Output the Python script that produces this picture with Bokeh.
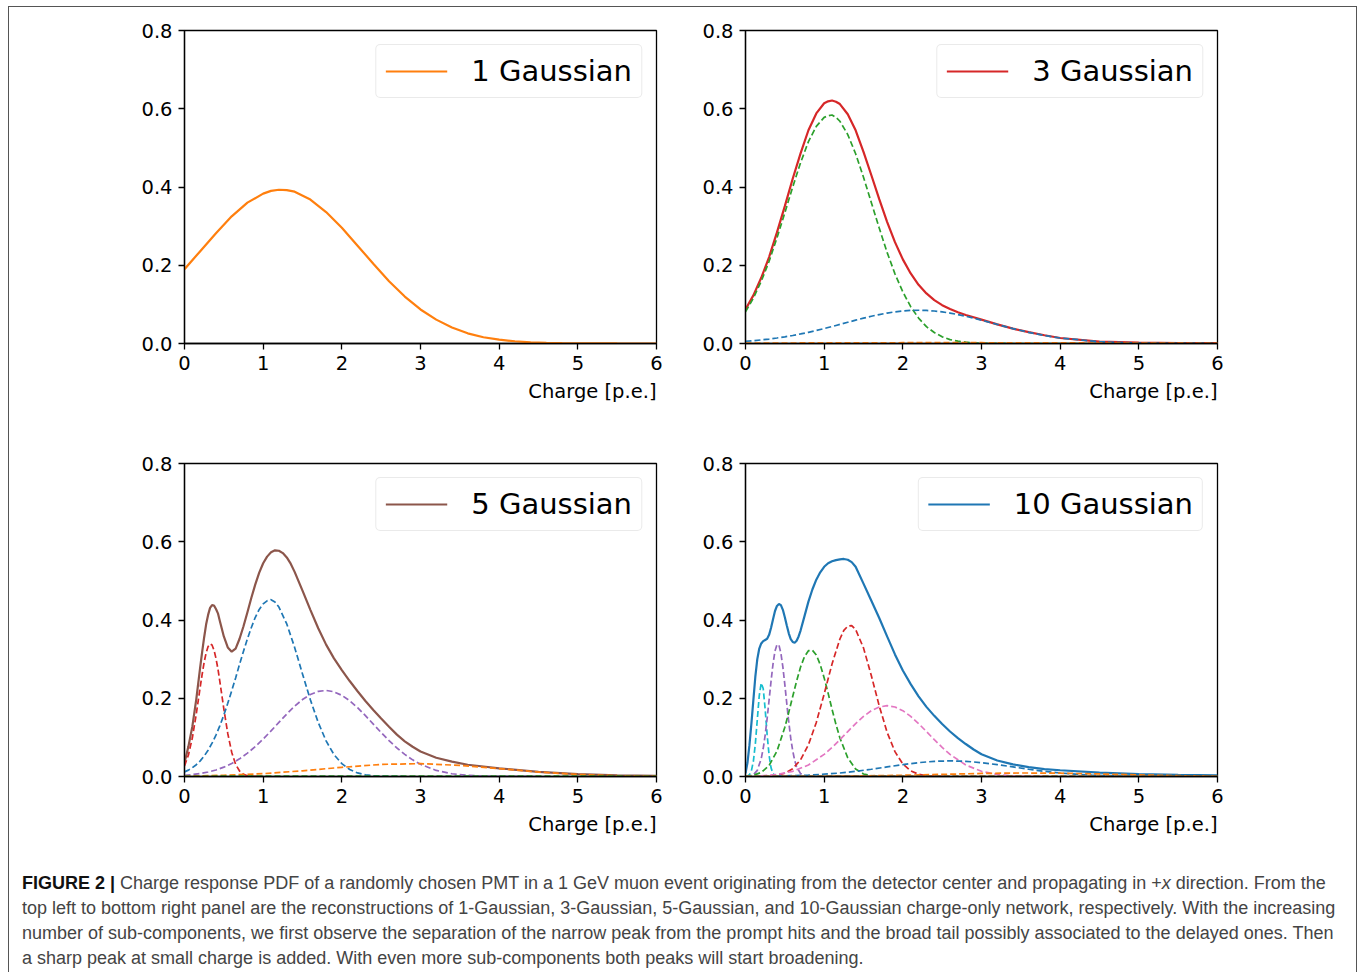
from bokeh.plotting import figure
from bokeh.models import Range1d, FixedTicker, PrintfTickFormatter, Legend, LegendItem, Title, Div
from bokeh.layouts import column, row
from bokeh.embed import file_html
from bokeh.resources import INLINE

# ---------------- data ----------------
x_ticks = [0, 1, 2, 3, 4, 5, 6]
y_ticks = [0.0, 0.2, 0.4, 0.6, 0.8]
legend_labels = ["1 Gaussian", "3 Gaussian", "5 Gaussian", "10 Gaussian"]
x_label = "Charge [p.e.]"

# Panel 1 : 1 Gaussian
p1_x = [0, 0.2, 0.4, 0.6, 0.8, 1.0, 1.1, 1.2, 1.3, 1.4, 1.6, 1.8, 2.0, 2.2, 2.4, 2.6, 2.8, 3.0,
        3.2, 3.4, 3.6, 3.8, 4.0, 4.2, 4.4, 4.6, 4.8, 5.0, 5.5, 6.0]
p1_total = [0.190, 0.236, 0.282, 0.325, 0.360, 0.383, 0.390, 0.393, 0.392, 0.388, 0.368,
            0.336, 0.296, 0.250, 0.204, 0.159, 0.120, 0.087, 0.061, 0.041, 0.026, 0.016,
            0.0098, 0.0057, 0.0031, 0.0017, 0.0009, 0.0004, 0.0001, 0.0]

# Panel 2 : 3 Gaussian
p2_x = [0, 0.1, 0.2, 0.3, 0.4, 0.5, 0.6, 0.7, 0.8, 0.9, 1.0, 1.05, 1.1, 1.15, 1.2, 1.3, 1.4,
        1.5, 1.6, 1.7, 1.8, 1.9, 2.0, 2.1, 2.2, 2.3, 2.4, 2.5, 2.6, 2.7, 2.8, 2.9, 3.0,
        3.2, 3.4, 3.6, 3.8, 4.0, 4.5, 5.0, 5.5, 6.0]
p2_total = [0.087, 0.123, 0.168, 0.221, 0.284, 0.351, 0.421, 0.486, 0.545, 0.588,
            0.614, 0.619, 0.621, 0.618, 0.612, 0.586, 0.545, 0.490, 0.430, 0.369, 0.311,
            0.259, 0.215, 0.179, 0.150, 0.128, 0.111, 0.098, 0.088, 0.080, 0.073, 0.067,
            0.061, 0.049, 0.038, 0.029, 0.021, 0.014, 0.005, 0.002, 0.001, 0.001]
p2_green = [0.081, 0.116, 0.159, 0.210, 0.270, 0.334, 0.400, 0.462, 0.516, 0.555,
            0.578, 0.582, 0.584, 0.578, 0.568, 0.534, 0.485, 0.425, 0.360, 0.295, 0.233,
            0.178, 0.132, 0.094, 0.065, 0.043, 0.028, 0.017, 0.010, 0.006, 0.0033, 0.0018,
            0.0010, 0.0002, 0, 0, 0, 0, 0, 0, 0, 0]
p2_blue = [0.0058, 0.0073, 0.0092, 0.0114, 0.0141, 0.0171, 0.0205, 0.0244, 0.0286, 0.0332,
           0.0382, 0.0408, 0.0434, 0.0461, 0.0488, 0.0542, 0.0596, 0.0648, 0.0696, 0.0740,
           0.0778, 0.0809, 0.0831, 0.0845, 0.0850, 0.0845, 0.0831, 0.0809, 0.0778, 0.0740,
           0.0696, 0.0648, 0.0596, 0.0488, 0.0382, 0.0286, 0.0205, 0.0141, 0.0045, 0.0011,
           0.0002, 0.0]
p2_orange_x = [0, 1, 2, 3, 4, 5, 6]
p2_orange = [0.001, 0.0015, 0.002, 0.002, 0.0015, 0.001, 0.0005]

# Panel 3 : 5 Gaussian
p3_x = [0, 0.05, 0.1, 0.15, 0.2, 0.225, 0.25, 0.275, 0.3, 0.325, 0.35, 0.375, 0.4, 0.425,
        0.45, 0.5, 0.55, 0.6, 0.65, 0.7, 0.75, 0.8, 0.85, 0.9, 0.95, 1.0, 1.05,
        1.1, 1.15, 1.2, 1.25, 1.3, 1.35, 1.4, 1.5, 1.6, 1.7, 1.8, 1.9, 2.0, 2.1, 2.2, 2.3,
        2.4, 2.5, 2.6, 2.7, 2.8, 2.9, 3.0, 3.2, 3.4, 3.6, 3.8, 4.0, 4.5, 5.0, 5.5, 6.0]
p3_total = [0.035, 0.077, 0.128, 0.198, 0.280, 0.319, 0.356, 0.389, 0.413, 0.431, 0.438,
            0.437, 0.428, 0.417, 0.397, 0.358, 0.330, 0.319, 0.327, 0.352, 0.384, 0.420,
            0.457, 0.491, 0.521, 0.545, 0.562,
            0.573, 0.578, 0.577, 0.571, 0.560, 0.544, 0.523, 0.475, 0.426, 0.379, 0.337,
            0.302, 0.272, 0.244, 0.218, 0.193, 0.170, 0.148, 0.127, 0.107, 0.090, 0.076,
            0.064, 0.048, 0.038, 0.030, 0.0255, 0.021, 0.012, 0.006, 0.003, 0.0015]
p3_red_x = [0, 0.05, 0.1, 0.15, 0.2, 0.225, 0.25, 0.275, 0.3, 0.325, 0.35, 0.375, 0.4,
            0.425, 0.45, 0.5, 0.55, 0.6, 0.65, 0.7, 0.75, 0.8, 0.85, 0.9, 1.0]
p3_red = [0.027, 0.055, 0.099, 0.160, 0.229, 0.262, 0.292, 0.316, 0.332, 0.339, 0.336,
          0.323, 0.302, 0.275, 0.242, 0.173, 0.110, 0.062, 0.031, 0.014, 0.0056, 0.002,
          0.0006, 0.0002, 0.0]
p3_blue_x = [0, 0.05, 0.1, 0.15, 0.2, 0.25, 0.3, 0.35, 0.4, 0.45, 0.5, 0.55, 0.6, 0.65,
             0.7, 0.75, 0.8, 0.85, 0.9, 0.95, 1.0, 1.05, 1.1, 1.15, 1.2, 1.3, 1.4, 1.5, 1.6,
             1.7, 1.8, 1.9, 2.0, 2.1, 2.2, 2.3, 2.4, 2.5, 2.6, 2.8]
p3_blue = [0.0118, 0.0163, 0.0224, 0.0301, 0.040, 0.0523, 0.0672, 0.0851, 0.106, 0.130,
           0.157, 0.187, 0.219, 0.252, 0.287, 0.320, 0.352, 0.381, 0.407, 0.427, 0.441,
           0.449, 0.452, 0.446, 0.433, 0.390, 0.330, 0.262, 0.196, 0.138, 0.091, 0.056,
           0.033, 0.0178, 0.0091, 0.0044, 0.0019, 0.0008, 0.0003, 0.0]
p3_purple_x = [0, 0.1, 0.2, 0.3, 0.4, 0.5, 0.6, 0.7, 0.8, 0.9, 1.0, 1.1, 1.2, 1.3, 1.4,
               1.5, 1.6, 1.7, 1.8, 1.9, 2.0, 2.1, 2.2, 2.3, 2.4, 2.5, 2.6, 2.7, 2.8, 2.9,
               3.0, 3.2, 3.4, 3.6, 3.8, 4.0, 4.5]
p3_purple = [0.0031, 0.0049, 0.0076, 0.0114, 0.0167, 0.0239, 0.0333, 0.0451, 0.0596, 0.0765,
             0.0957, 0.1166, 0.1383, 0.1597, 0.1797, 0.1967, 0.2097, 0.2176, 0.2200, 0.2165,
             0.2074, 0.1935, 0.1758, 0.1555, 0.1340, 0.1124, 0.0917, 0.0729, 0.0565, 0.0426,
             0.0312, 0.0155, 0.0070, 0.0028, 0.0010, 0.0003, 0.0]
p3_orange_x = [0, 0.5, 1.0, 1.5, 2.0, 2.5, 3.0, 3.5, 4.0, 4.5, 5.0, 5.5, 6.0]
p3_orange = [0.0010, 0.0030, 0.0073, 0.0146, 0.0235, 0.0309, 0.0329, 0.0284, 0.0199,
             0.0114, 0.0052, 0.0020, 0.0006]
p3_green_x = [0, 1, 2, 3, 4, 5, 6]
p3_green = [0.0005, 0.001, 0.001, 0.001, 0.001, 0.001, 0.0005]

# Panel 4 : 10 Gaussian
p4_x = [0, 0.025, 0.05, 0.075, 0.1, 0.125, 0.15, 0.175, 0.2, 0.225, 0.25, 0.275, 0.3,
        0.325, 0.35, 0.375, 0.4, 0.425, 0.45, 0.475, 0.5, 0.525, 0.55, 0.575, 0.6, 0.625,
        0.65, 0.675, 0.7, 0.75, 0.8, 0.85, 0.9, 0.95, 1.0, 1.05, 1.1, 1.15, 1.2, 1.25, 1.3,
        1.35, 1.4, 1.5, 1.6, 1.7, 1.8, 1.9, 2.0, 2.1, 2.2, 2.3, 2.4, 2.5, 2.6, 2.7, 2.8,
        2.9, 3.0, 3.2, 3.4, 3.6, 3.8, 4.0, 4.5, 5.0, 5.5, 6.0]
p4_total = [0.008, 0.035, 0.080, 0.135, 0.195, 0.255, 0.300, 0.327, 0.340, 0.346, 0.349,
            0.352, 0.362, 0.380, 0.402, 0.423, 0.436, 0.441, 0.438, 0.426, 0.407, 0.386,
            0.366, 0.351, 0.344, 0.342, 0.347, 0.358, 0.373, 0.410, 0.447, 0.478, 0.503,
            0.522, 0.536, 0.545, 0.550, 0.553, 0.555, 0.556, 0.554, 0.548, 0.536, 0.493,
            0.449, 0.405, 0.358, 0.312, 0.271, 0.236, 0.205, 0.178, 0.155, 0.134, 0.115,
            0.098, 0.083, 0.069, 0.057, 0.041, 0.031, 0.024, 0.019, 0.016, 0.010, 0.006,
            0.004, 0.003]
p4_cyan_x = [0, 0.025, 0.05, 0.075, 0.1, 0.125, 0.15, 0.175, 0.2, 0.225, 0.25, 0.275, 0.3,
             0.325, 0.35, 0.375, 0.4, 0.425]
p4_cyan = [0.0002, 0.0011, 0.0045, 0.0147, 0.0388, 0.0833, 0.1456, 0.207, 0.239, 0.225,
           0.172, 0.107, 0.054, 0.022, 0.0074, 0.002, 0.0004, 0.0]
p4_purple_x = [0, 0.05, 0.1, 0.15, 0.2, 0.225, 0.25, 0.275, 0.3, 0.325, 0.35, 0.375, 0.4,
               0.425, 0.45, 0.475, 0.5, 0.525, 0.55, 0.575, 0.6, 0.625, 0.65, 0.7, 0.75,
               0.8, 0.85]
p4_purple = [0.0002, 0.0009, 0.0043, 0.0157, 0.0457, 0.0715, 0.106, 0.148, 0.196, 0.244,
             0.288, 0.321, 0.337, 0.336, 0.315, 0.280, 0.235, 0.186, 0.139, 0.098, 0.066,
             0.0415, 0.0247, 0.0074, 0.0018, 0.0004, 0.0]
p4_green_x = [0, 0.1, 0.2, 0.3, 0.4, 0.5, 0.55, 0.6, 0.65, 0.7, 0.75, 0.8, 0.85, 0.9, 0.95,
              1.0, 1.05, 1.1, 1.15, 1.2, 1.3, 1.4, 1.5, 1.6, 1.7, 1.8]
p4_green = [0.0008, 0.0031, 0.0103, 0.0282, 0.0649, 0.1257, 0.164, 0.2046, 0.244, 0.2797,
            0.3065, 0.3215, 0.3229, 0.3105, 0.286, 0.252, 0.213, 0.172, 0.133, 0.0985,
            0.0475, 0.0192, 0.0065, 0.0019, 0.0005, 0.0001]
p4_red_x = [0.2, 0.3, 0.4, 0.5, 0.6, 0.7, 0.8, 0.9, 1.0, 1.1, 1.2, 1.25, 1.3, 1.35, 1.4,
            1.5, 1.6, 1.7, 1.8, 1.9, 2.0, 2.1, 2.2, 2.3, 2.4, 2.5, 2.6]
p4_red = [0.0003, 0.0011, 0.0032, 0.0084, 0.0200, 0.0426, 0.0811, 0.1382, 0.2108, 0.2877,
          0.3514, 0.3735, 0.3841, 0.3858, 0.3756, 0.3288, 0.2575, 0.1804, 0.1131, 0.0635,
          0.0319, 0.0143, 0.0058, 0.0021, 0.0007, 0.0002, 0.0]
p4_pink_x = [0.2, 0.4, 0.6, 0.8, 1.0, 1.1, 1.2, 1.3, 1.4, 1.5, 1.6, 1.7, 1.8, 1.9, 2.0, 2.1,
             2.2, 2.3, 2.4, 2.5, 2.6, 2.8, 3.0, 3.2, 3.4, 3.6, 3.8]
p4_pink = [0.0017, 0.0051, 0.0132, 0.0294, 0.0565, 0.0743, 0.0941, 0.1149, 0.1353, 0.1537,
           0.1683, 0.1777, 0.181, 0.1777, 0.1683, 0.1537, 0.1353, 0.1149, 0.0941, 0.0743,
           0.0565, 0.0294, 0.0132, 0.0051, 0.0017, 0.0005, 0.0001]
p4_blue_x = [0.4, 0.8, 1.2, 1.4, 1.6, 1.8, 2.0, 2.2, 2.4, 2.6, 2.8, 3.0, 3.2, 3.4, 3.6, 3.8,
             4.0, 4.4, 4.8, 5.2, 6.0]
p4_blue = [0.0010, 0.0033, 0.0089, 0.0132, 0.0185, 0.0245, 0.0303, 0.0354, 0.0388, 0.0400,
           0.0388, 0.0354, 0.0303, 0.0245, 0.0185, 0.0132, 0.0089, 0.0033, 0.0010, 0.0002, 0.0]
p4_orange_x = [1.0, 1.5, 2.0, 2.5, 3.0, 3.5, 4.0, 4.5, 5.0, 5.5, 6.0]
p4_orange = [0.0006, 0.0015, 0.0032, 0.0055, 0.0078, 0.0090, 0.0084, 0.0065, 0.0041,
             0.0021, 0.0009]
p4_flat_x = [0, 3, 6]
p4_flat = [0.0005, 0.0005, 0.0005]

caption_lines = [
    "<b style='color:#111'>FIGURE 2 |</b> Charge response PDF of a randomly chosen PMT in a 1 GeV muon event originating from the detector center and propagating in +<i>x</i> direction. From the",
    "top left to bottom right panel are the reconstructions of 1-Gaussian, 3-Gaussian, 5-Gaussian, and 10-Gaussian charge-only network, respectively. With the increasing",
    "number of sub-components, we first observe the separation of the narrow peak from the prompt hits and the broad tail possibly associated to the delayed ones. Then",
    "a sharp peak at small charge is added. With even more sub-components both peaks will start broadening.",
]

# ---------------- styling ----------------
C = dict(blue="#1f77b4", orange="#ff7f0e", green="#2ca02c", red="#d62728",
         purple="#9467bd", brown="#8c564b", pink="#e377c2", gray="#7f7f7f",
         olive="#bcbd22", cyan="#17becf")
FONT = "DejaVu Sans"


def make_panel(width, height, mbl, mbr, mbt, mbb, total, comps, total_color, label):
    p = figure(width=width, height=height, output_backend="svg", toolbar_location=None,
               x_range=Range1d(0, 6), y_range=Range1d(0, 0.8), title=None,
               min_border_left=mbl, min_border_right=mbr,
               min_border_top=mbt, min_border_bottom=mbb)
    p.border_fill_color = None
    p.background_fill_color = "white"
    p.outline_line_color = "black"
    p.outline_line_width = 1.3
    p.grid.visible = False
    p.xaxis.ticker = FixedTicker(ticks=x_ticks)
    p.yaxis.ticker = FixedTicker(ticks=y_ticks)
    p.yaxis.formatter = PrintfTickFormatter(format="%.1f")
    for ax in p.axis:
        ax.major_label_text_font = FONT
        ax.major_label_text_font_size = "19.5px"
        ax.major_label_text_color = "black"
        ax.axis_line_color = "black"
        ax.axis_line_width = 1.3
        ax.major_tick_line_color = "black"
        ax.major_tick_line_width = 1.3
        ax.major_tick_out = 6
        ax.major_tick_in = 0
        ax.minor_tick_out = 0
        ax.minor_tick_in = 0
        ax.major_label_standoff = 6
    p.add_layout(Title(text=x_label, align="right", text_font=FONT, text_font_size="19.5px",
                       text_font_style="normal", text_color="black"), "below")
    r_total = p.line(total[0], total[1], line_color=total_color, line_width=2.2)
    for cx, cy, col in comps:
        p.line(cx, cy, line_color=col, line_width=1.7, line_dash="6 3")
    leg = Legend(items=[LegendItem(label=label, renderers=[r_total])], location="top_right")
    leg.label_text_font = FONT
    leg.label_text_font_size = "29px"
    leg.label_text_color = "black"
    leg.glyph_width = 62
    leg.glyph_height = 20
    leg.label_standoff = 24
    leg.padding = 9
    leg.margin = 14
    leg.border_line_color = "#d6d6d6"
    leg.border_line_width = 1.5
    leg.background_fill_color = "white"
    leg.background_fill_alpha = 1.0
    try:
        leg.border_radius = 5
    except Exception:
        pass
    p.add_layout(leg)
    return p


f1 = make_panel(682, 432, 176, 34, 24, 95, (p1_x, p1_total), [], C["orange"], legend_labels[0])
f2 = make_panel(667, 432, 55, 140, 24, 95, (p2_x, p2_total),
                [(p2_x, p2_green, C["green"]), (p2_x, p2_blue, C["blue"]),
                 (p2_orange_x, p2_orange, C["orange"])], C["red"], legend_labels[1])
f3 = make_panel(682, 416, 176, 34, 25, 78, (p3_x, p3_total),
                [(p3_red_x, p3_red, C["red"]), (p3_blue_x, p3_blue, C["blue"]),
                 (p3_purple_x, p3_purple, C["purple"]), (p3_orange_x, p3_orange, C["orange"]),
                 (p3_green_x, p3_green, C["green"])], C["brown"], legend_labels[2])
f4 = make_panel(667, 416, 55, 140, 25, 78, (p4_x, p4_total),
                [(p4_cyan_x, p4_cyan, C["cyan"]), (p4_purple_x, p4_purple, C["purple"]),
                 (p4_green_x, p4_green, C["green"]), (p4_red_x, p4_red, C["red"]),
                 (p4_pink_x, p4_pink, C["pink"]), (p4_blue_x, p4_blue, C["blue"]),
                 (p4_orange_x, p4_orange, C["orange"]), (p4_flat_x, p4_flat, C["gray"]),
                 (p4_flat_x, p4_flat, C["olive"]), (p4_flat_x, p4_flat, C["brown"])],
                C["blue"], legend_labels[3])

lines_html = ""
for i, ln in enumerate(caption_lines):
    last = "justify" if i < len(caption_lines) - 1 else "left"
    lines_html += (f"<div style='text-align:justify;text-align-last:{last};"
                   f"white-space:nowrap;'>{ln}</div>")
cap = Div(text=(f"<div style=\"font-family:'Liberation Sans',Arial,sans-serif;font-size:18px;"
                f"line-height:25px;color:#444;padding:17px 0 0 14px;width:1314px;\">"
                f"{lines_html}</div>"), width=1349, height=118, margin=0)

layout = column(row(f1, f2), row(f3, f4), cap,
                styles={"box-shadow": "inset 1px 1px 0 #555, inset -1px 0 0 #555",
                        "margin": "6px 0 0 8px"})

with open("out.html", "w") as fh:
    fh.write(file_html(layout, INLINE))
